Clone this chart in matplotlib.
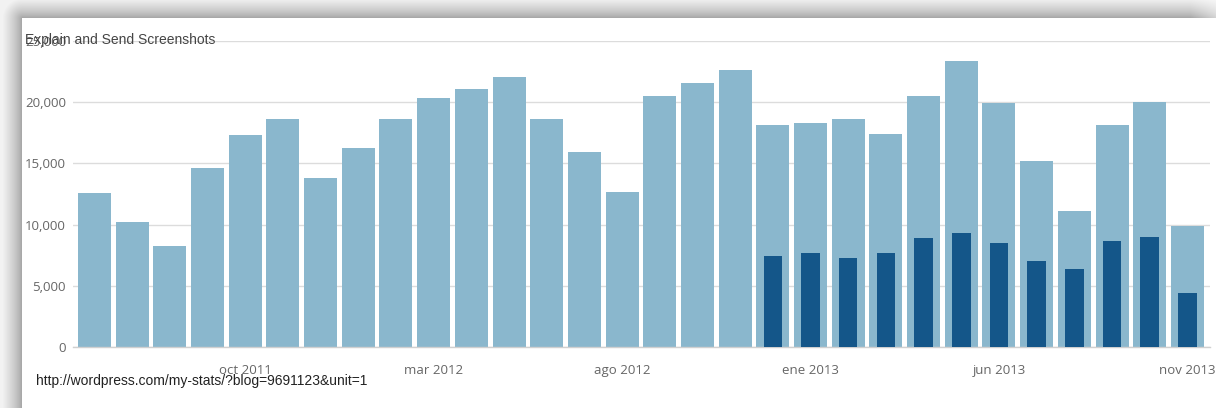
import numpy as np
import matplotlib
matplotlib.use("Agg")
import matplotlib.pyplot as plt

# ---- data ----
months = ["jun 2011", "jul 2011", "ago 2011", "sep 2011", "oct 2011", "nov 2011",
          "dic 2011", "ene 2012", "feb 2012", "mar 2012", "abr 2012", "may 2012",
          "jun 2012", "jul 2012", "ago 2012", "sep 2012", "oct 2012", "nov 2012",
          "dic 2012", "ene 2013", "feb 2013", "mar 2013", "abr 2013", "may 2013",
          "jun 2013", "jul 2013", "ago 2013", "sep 2013", "oct 2013", "nov 2013"]
views = [12600, 10250, 8250, 14650, 17350, 18600,
         13800, 16250, 18650, 20350, 21050, 22050,
         18650, 15950, 12650, 20500, 21600, 22600,
         18150, 18300, 18650, 17400, 20500, 23350,
         19950, 15200, 11150, 18150, 20050, 9900]
visitors = [None] * 18 + [7400, 7650, 7300, 7650, 8900, 9300,
                          8500, 7000, 6350, 8650, 8950, 4400]
tick_labels = ["oct 2011", "mar 2012", "ago 2012", "ene 2013", "jun 2013", "nov 2013"]
y_ticks = [0, 5000, 10000, 15000, 20000, 25000]

W, H = 1216, 408
fig = plt.figure(figsize=(W / 100, H / 100), dpi=100)
fig.patch.set_facecolor("white")

# ---- screenshot drop-shadow background ----
bg = fig.add_axes([0, 0, 1, 1], zorder=-5)
yy, xx = np.mgrid[0:H, 0:W]
px0, py0 = 22, 18
dx = np.maximum(px0 - xx, 0)
dy = np.maximum(py0 - yy, 0)
d = np.sqrt(dx ** 2 + dy ** 2).astype(float)
shade = np.where(d > 0, 0.62 + 0.33 * np.clip(d / 20.0, 0, 1) ** 0.7, 1.0)
# fade the top shadow slightly toward the right edge
fade = np.clip((xx - 1190) / 26.0, 0, 1)
shade = np.where((d > 0) & (xx > 1190), shade + (1 - shade) * fade * 0.5, shade)
img = np.dstack([shade, shade, shade])
bg.imshow(img, extent=[0, W, H, 0], aspect="auto", interpolation="bilinear")
bg.set_xlim(0, W)
bg.set_ylim(H, 0)
bg.axis("off")

# ---- main chart ----
ax_left, ax_right = 73, 1210
ax_top, ax_bottom = 41, 347
ax = fig.add_axes([ax_left / W, (H - ax_bottom) / H,
                   (ax_right - ax_left) / W, (ax_bottom - ax_top) / H])
ax.set_facecolor("none")

x = np.arange(len(months))
light = "#8AB7CD"
dark = "#145689"
ax.bar(x, views, width=0.875, color=light, zorder=2)
vx = [i for i, v in enumerate(visitors) if v is not None]
vv = [v for v in visitors if v is not None]
ax.bar(vx, vv, width=0.49, color=dark, zorder=3)

ax.set_xlim(-0.57, len(months) - 1 + 0.6)
ax.set_ylim(0, 25000)
ax.set_yticks(y_ticks)
ax.set_yticklabels([f"{v:,}" for v in y_ticks])
ax.grid(axis="y", color="#dcdcdc", linewidth=1, zorder=0)
ax.set_axisbelow(True)

tick_pos = [months.index(t) for t in tick_labels]
ax.set_xticks(tick_pos)
ax.set_xticklabels(tick_labels)

for s in ["top", "right", "left"]:
    ax.spines[s].set_visible(False)
ax.spines["bottom"].set_color("#d0d0d0")
ax.spines["bottom"].set_linewidth(1)
ax.tick_params(axis="both", length=0, labelcolor="#666666", labelsize=9.5)
ax.tick_params(axis="y", pad=5)
ax.tick_params(axis="x", pad=12)
for lab in ax.get_xticklabels() + ax.get_yticklabels():
    lab.set_fontfamily("Open Sans")

# overlay texts from the screenshot
fig.text(25 / W, 1 - 40 / H, "Explain and Send Screenshots", fontsize=10,
         family="Liberation Sans", color="#444444", va="center", ha="left")
fig.text(36 / W, 1 - 381 / H, "http://wordpress.com/my-stats/?blog=9691123&unit=1",
         fontsize=10, family="Liberation Sans", color="#222222", va="center", ha="left")

fig.savefig("out.png", dpi=100, facecolor="white")
